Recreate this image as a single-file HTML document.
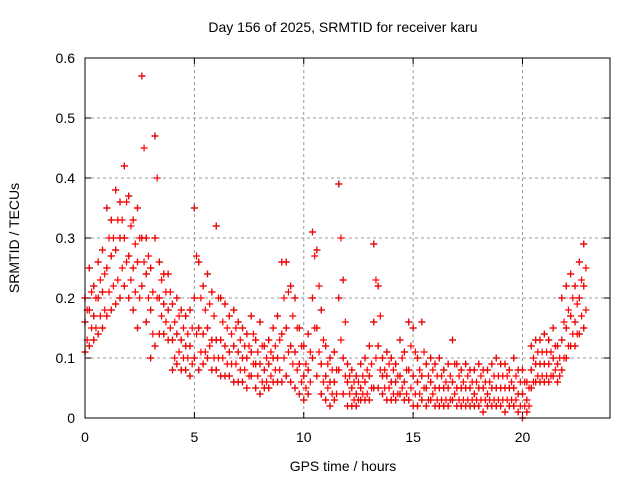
<!DOCTYPE html>
<html><head><meta charset="utf-8"><style>
body{margin:0;background:#fff}
svg{display:block;font-family:"Liberation Sans",sans-serif}
</style></head><body>
<svg id="chart" width="640" height="480" xmlns="http://www.w3.org/2000/svg">
<text x="343" y="32" font-size="14" text-anchor="middle">Day 156 of 2025, SRMTID for receiver karu</text>
<text x="0" y="0" font-size="14" text-anchor="middle" transform="translate(19,238) rotate(-90)">SRMTID / TECUs</text>
<text x="343" y="471" font-size="14" text-anchor="middle">GPS time / hours</text>
<g id="grid"></g><g id="ticks"></g><g id="marks"></g>
<rect x="85" y="58" width="525" height="360" fill="none" stroke="#000" stroke-width="1"/>
</svg>
<script>
const hiVals=[.2,.25,.22,.26,.28,.35,.33,.38,.36,.42,.37,.33,.35,.57,.3,.25,.47,.26,.24,.24,.19,.2,.18,.17,.18,.35,.26,.22,.24,.21,.32,.2,.19,.17,.18,.16,.15,.14,.17,.13,.16,.12,.13,.15,.17,.26,.26,.22,.2,.15,.12,.14,.31,.28,.18,.12,.1,.11,.39,.23,.09,.08,.07,.09,.1,.12,.29,.22,.1,.11,.1,.09,.13,.11,.16,.15,.1,.16,.09,.1,.09,.1,.08,.09,.13,.09,.08,.09,.08,.08,.09,.08,.08,.09,.1,.09,.09,.08,.1,.08,.08,.06,.12,.13,.13,.14,.13,.15,.12,.2,.22,.24,.22,.26,.29];
const midVals=[.16,.18,.17,.2,.21,.25,.27,.28,.3,.3,.27,.25,.26,.3,.24,.18,.3,.2,.19,.18,.13,.14,.13,.12,.12,.2,.15,.14,.15,.13,.13,.13,.12,.11,.12,.11,.1,.1,.11,.09,.09,.08,.09,.1,.1,.14,.15,.12,.11,.09,.07,.08,.2,.15,.09,.07,.06,.06,.2,.1,.06,.05,.04,.05,.06,.07,.16,.12,.07,.07,.06,.06,.07,.06,.08,.07,.06,.07,.05,.06,.05,.05,.05,.05,.06,.05,.05,.05,.05,.04,.05,.05,.04,.05,.05,.05,.05,.05,.05,.04,.04,.03,.08,.09,.09,.09,.09,.1,.09,.13,.15,.17,.16,.2,.22];
const loVals=[.11,.12,.13,.14,.15,.17,.18,.19,.2,.22,.2,.18,.15,.22,.16,.1,.12,.14,.14,.13,.08,.09,.08,.08,.07,.1,.08,.09,.1,.08,.08,.07,.07,.07,.06,.06,.06,.05,.07,.05,.04,.05,.05,.06,.06,.06,.07,.06,.05,.04,.03,.04,.1,.07,.04,.03,.02,.03,.08,.04,.02,.02,.02,.03,.03,.03,.05,.05,.04,.03,.03,.03,.04,.03,.03,.02,.02,.03,.02,.03,.02,.02,.02,.02,.03,.02,.02,.02,.02,.02,.02,.01,.02,.02,.02,.02,.01,.02,.02,.01,.0,.01,.05,.06,.06,.06,.06,.07,.06,.08,.1,.12,.12,.14,.15];
const upperMidVals=[.18,.21,.2,.23,.24,.3,.3,.33,.33,.36,.32,.29,.3,.45,.27,.21,.4,.23,.21,.21,.16,.17,.15,.14,.15,.27,.2,.18,.19,.17,.2,.16,.15,.14,.15,.13,.12,.12,.14,.11,.12,.1,.11,.12,.13,.2,.21,.17,.15,.12,.09,.11,.27,.22,.13,.09,.08,.08,.3,.16,.07,.06,.06,.07,.08,.09,.23,.17,.08,.09,.08,.07,.1,.08,.12,.11,.08,.11,.07,.08,.07,.07,.06,.07,.09,.07,.06,.07,.06,.06,.07,.06,.06,.07,.07,.07,.07,.06,.07,.06,.06,.05,.1,.11,.11,.11,.11,.12,.1,.16,.18,.2,.19,.23,.25];
const lowerMidVals=[.13,.15,.15,.17,.18,.21,.22,.23,.25,.26,.23,.21,.2,.26,.2,.14,.2,.17,.16,.15,.1,.11,.1,.1,.09,.14,.11,.11,.12,.1,.1,.1,.09,.09,.09,.08,.08,.07,.09,.07,.06,.06,.07,.08,.08,.1,.11,.09,.08,.06,.05,.06,.15,.11,.06,.05,.04,.04,.13,.07,.04,.03,.03,.04,.04,.05,.1,.08,.05,.05,.04,.04,.05,.04,.05,.04,.04,.05,.03,.04,.03,.03,.03,.03,.04,.03,.03,.03,.03,.03,.03,.03,.03,.03,.03,.03,.03,.03,.03,.02,.02,.02,.06,.07,.07,.07,.07,.08,.07,.1,.12,.14,.14,.17,.18];
const timeStep=0.2;
const xTicks=[0,5,10,15,20];
const yTicks=[0,0.1,0.2,0.3,0.4,0.5,0.6];
const yTickLabels=["0","0.1","0.2","0.3","0.4","0.5","0.6"];
const X=t=>85+t*(525/24), Y=v=>418-v*600;
const NS='http://www.w3.org/2000/svg';
function mk(tag,attrs,parent){const e=document.createElementNS(NS,tag);for(const k in attrs)e.setAttribute(k,attrs[k]);parent.appendChild(e);return e;}
const grid=document.getElementById('grid'),ticks=document.getElementById('ticks'),marks=document.getElementById('marks');
xTicks.forEach(t=>{const x=X(t);
 if(t>0){const g=mk('line',{x1:x,x2:x,y1:58,y2:418,stroke:'#999','stroke-dasharray':'3,3'},grid);
 
 }
 const tl=mk('text',{x:x,y:442,'font-size':14,'text-anchor':'middle'},ticks);tl.textContent=t;
 
 
 mk('line',{x1:x,x2:x,y1:418,y2:412,stroke:'#000'},ticks);mk('line',{x1:x,x2:x,y1:58,y2:64,stroke:'#000'},ticks);});
yTicks.forEach((v,i)=>{const y=Y(v);
 if(v>0&&v<0.6){const g=mk('line',{x1:85,x2:610,y1:y,y2:y,stroke:'#999','stroke-dasharray':'3,3'},grid);
 
 }
 const tl=mk('text',{x:75,y:y+5,'font-size':14,'text-anchor':'end'},ticks);tl.textContent=yTickLabels[i];
 
 
 mk('line',{x1:85,x2:91,y1:y,y2:y,stroke:'#000'},ticks);mk('line',{x1:610,x2:604,y1:y,y2:y,stroke:'#000'},ticks);});
function plus(t,v,color){const x=X(t),y=Y(v);
 const p=mk('path',{d:`M${x-3.5},${y}h7M${x},${y-3.5}v7`,stroke:color,'stroke-width':1.2,fill:'none'},marks);
 
 }
[loVals,midVals,hiVals].forEach(arr=>arr.forEach((v,i)=>plus(i*timeStep,v,'#333')));
[loVals,midVals,hiVals].forEach(arr=>arr.forEach((v,i)=>plus(i*timeStep,v,'#f00')));
[lowerMidVals,upperMidVals].forEach(arr=>arr.forEach((v,i)=>plus(i*timeStep+0.1,v,'#f00')));
</script>
</body></html>
